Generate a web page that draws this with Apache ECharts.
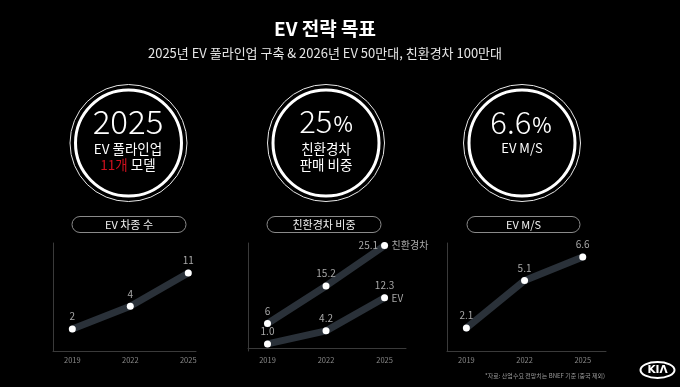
<!DOCTYPE html>
<html>
<head>
<meta charset="utf-8">
<script src="https://cdn.jsdelivr.net/npm/echarts@6/dist/echarts.min.js"></script>
<style>
html,body{margin:0;padding:0;background:#000;}
#c{width:680px;height:387px;}
</style>
</head>
<body>
<div id="c"></div>
<script>
const years = [2019, 2022, 2025];
const evModels = [2, 4, 11];
const ecoShare = [6, 15.2, 25.1];
const evShare = [1.0, 4.2, 12.3];
const evMS = [2.1, 5.1, 6.6];
const ecoName = '친환경차';
const evName = 'EV';

const FONT = '"Noto Sans CJK KR", "Noto Sans", sans-serif';
const chart = echarts.init(document.getElementById('c'));

function pair(vals) { return years.map((y, i) => [y, vals[i]]); }

const lineBase = {
  type: 'line',
  symbol: 'circle',
  symbolSize: 7,
  itemStyle: { color: '#fff' },
  lineStyle: { width: 7, color: '#2a3139', cap: 'round' },
  silent: true,
  animation: false,
  z: 3
};
const lbl = { show: true, position: 'top', color: '#a8a8a8', fontSize: 10, distance: 4, fontFamily: FONT };

function xAx(grid, max) {
  return {
    type: 'value', gridIndex: grid, min: 2018, max: max, interval: 1,
    axisLine: { show: true, lineStyle: { color: '#3a3a3a', width: 1 } },
    axisTick: { show: false }, splitLine: { show: false },
    axisLabel: { color: '#8a8a8a', fontSize: 7.5, margin: 5, fontFamily: FONT,
      formatter: v => years.includes(v) ? String(v) : '' }
  };
}
function yAx(grid, type, min, max) {
  const a = {
    type: type, gridIndex: grid, min: min, max: max,
    axisLine: { show: true, lineStyle: { color: '#3a3a3a', width: 1 } },
    axisTick: { show: false }, splitLine: { show: false }, axisLabel: { show: false }
  };
  if (type === 'log') a.logBase = 10;
  return a;
}

function ring(cx) {
  return [
    { type: 'circle', shape: { cx: cx, cy: 143, r: 58.5 }, style: { fill: 'none', stroke: '#e8e8e8', lineWidth: 1 } },
    { type: 'circle', shape: { cx: cx, cy: 143, r: 53 }, style: { fill: 'none', stroke: '#fff', lineWidth: 3 } }
  ];
}
function txt(t, x, y, size, color, weight, extra) {
  return Object.assign({ type: 'text', style: Object.assign({ text: t, x: x, y: y, fill: color, fontSize: size,
    fontWeight: weight || 'normal', fontFamily: FONT, align: 'center', verticalAlign: 'middle' }, extra || {}) });
}
function pill(x, w, label) {
  return [
    { type: 'rect', shape: { x: x, y: 216.5, width: w, height: 16, r: 8 }, style: { fill: 'none', stroke: '#8a8a8a', lineWidth: 1 } },
    txt(label, x + w / 2, 224.5, 11, '#f0f0f0')
  ];
}

const graphic = [].concat(
  [txt('EV 전략 목표', 325, 29, 19, '#fff', 'bold'),
   txt('2025년 EV 풀라인업 구축 & 2026년 EV 50만대, 친환경차 100만대', 325, 53, 13, '#e6e6e6')],
  ring(128.5), ring(326), ring(522),
  [txt('2025', 128, 121, 33, '#fff', 300),
   txt('EV 풀라인업', 128, 149, 13.5, '#fff'),
   { type: 'text', style: { text: '{r|11개} 모델', x: 128, y: 164.5, fill: '#fff', fontSize: 13.5, fontFamily: FONT,
       align: 'center', verticalAlign: 'middle', rich: { r: { fill: '#d0101e', fontSize: 13.5, fontFamily: FONT } } } },
   { type: 'text', style: { text: '25{p|%}', x: 326, y: 121, fill: '#fff', fontSize: 31, fontWeight: 300, fontFamily: FONT,
       align: 'center', verticalAlign: 'middle', rich: { p: { fill: '#fff', fontSize: 21, fontFamily: FONT, padding: [6, 0, 0, 1] } } } },
   txt('친환경차', 326, 149, 13.5, '#fff'),
   txt('판매 비중', 326, 164.5, 13.5, '#fff'),
   { type: 'text', style: { text: '6.6{p|%}', x: 521, y: 122, fill: '#fff', fontSize: 31, fontWeight: 300, fontFamily: FONT,
       align: 'center', verticalAlign: 'middle', rich: { p: { fill: '#fff', fontSize: 21, fontFamily: FONT, padding: [6, 0, 0, 1] } } } },
   txt('EV M/S', 522, 148.5, 13, '#fff')],
  pill(72, 114, 'EV 차종 수'), pill(267, 114, '친환경차 비중'), pill(467, 113, 'EV M/S'),
  [{ type: 'text', style: { text: '*자료: 산업수요 전망치는 BNEF 기준 (중국 제외)', x: 485, y: 375.5, fill: '#9a9a9a',
      fontSize: 6, fontFamily: FONT, align: 'left', verticalAlign: 'middle' } },
   { type: 'ellipse', shape: { cx: 657.5, cy: 370, rx: 17, ry: 8 }, style: { fill: 'none', stroke: '#fff', lineWidth: 2 } },
   txt('KIΛ', 657.5, 370.5, 10.5, '#fff', 'bold', { fontFamily: '"DejaVu Sans", sans-serif' })]
);

chart.setOption({
  backgroundColor: '#000',
  animation: false,
  textStyle: { fontFamily: FONT },
  grid: [
    { left: 53, width: 143, top: 243, height: 108 },
    { left: 248, width: 158, top: 243, height: 108 },
    { left: 447, width: 159, top: 243, height: 108 }
  ],
  xAxis: [xAx(0, 2025.4), xAx(1, 2026.1), xAx(2, 2026.2)],
  yAxis: [yAx(0, 'log', 1.024, 27.4), yAx(1, 'value', -0.74, 25.73), yAx(2, 'value', 0.64, 7.48)],
  series: [
    Object.assign({}, lineBase, { xAxisIndex: 0, yAxisIndex: 0, data: pair(evModels),
      label: Object.assign({}, lbl, { formatter: p => String(p.value[1]) }) }),
    Object.assign({}, lineBase, { name: ecoName, xAxisIndex: 1, yAxisIndex: 1,
      data: pair(ecoShare).map((d, i) => i === 2 ? { value: d, label: { position: 'left', distance: 3 } } : d),
      label: Object.assign({}, lbl, { formatter: p => String(p.value[1]) }),
      endLabel: { show: true, formatter: '{a}', color: '#a8a8a8', fontSize: 10, distance: 7, fontFamily: FONT } }),
    Object.assign({}, lineBase, { name: evName, xAxisIndex: 1, yAxisIndex: 1, data: pair(evShare),
      label: Object.assign({}, lbl, { formatter: p => p.value[1].toFixed(1) }),
      endLabel: { show: true, formatter: '{a}', color: '#a8a8a8', fontSize: 10, distance: 7, fontFamily: FONT } }),
    Object.assign({}, lineBase, { xAxisIndex: 2, yAxisIndex: 2, data: pair(evMS),
      label: Object.assign({}, lbl, { formatter: p => p.value[1].toFixed(1) }) })
  ],
  graphic: graphic
});
</script>
</body>
</html>
